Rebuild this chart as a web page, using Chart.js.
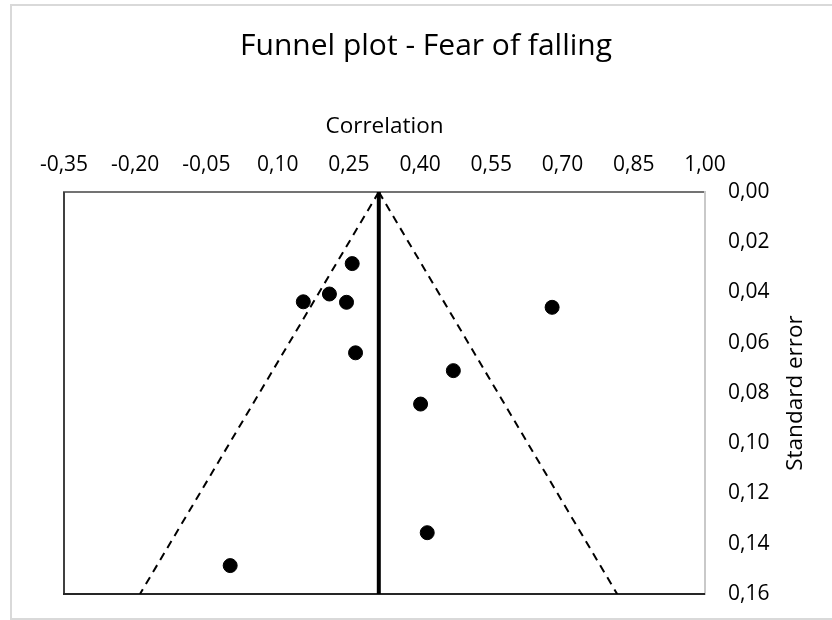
<!DOCTYPE html>
<html>
<head>
<meta charset="utf-8">
<script src="https://cdn.jsdelivr.net/npm/chart.js@4/dist/chart.umd.min.js"></script>
<style>
    html, body { margin: 0; padding: 0; background: #fff; }
    #frame { position: absolute; left: 10px; top: 4px; width: 840px; height: 612px; border: 2px solid #d9d9d9; }
    #funnel { position: absolute; left: 0; top: 0; }
</style>
</head>
<body>
<div id="frame"></div>
<canvas id="funnel" width="832" height="620"></canvas>
<script>
// studies: correlation (x) and standard error (y)
const studyR = [0.257, 0.154, 0.209, 0.245, 0.264, 0.678, 0.470, 0.401, 0.415, 0.000];
const studySE = [0.0285, 0.0437, 0.0406, 0.0439, 0.0640, 0.0459, 0.0711, 0.0844, 0.1356, 0.1487];

// pooled effect line and funnel limits
const pooledR = [0.313, 0.313];
const pooledSE = [0.00, 0.16];
const leftLimitR = [0.313, -0.19];
const rightLimitR = [0.313, 0.815];
const limitSE = [0.00, 0.16];

const xTicks = [-0.35, -0.20, -0.05, 0.10, 0.25, 0.40, 0.55, 0.70, 0.85, 1.00];
const yTicks = [0.00, 0.02, 0.04, 0.06, 0.08, 0.10, 0.12, 0.14, 0.16];

const chartTitle = 'Funnel plot - Fear of falling';
const xTitle = 'Correlation';
const yTitleText = 'Standard error';

const pts = (xs, ys) => xs.map((x, i) => ({ x: x, y: ys[i] }));
const comma = v => Number(v).toFixed(2).replace('.', ',');

const fontName = '"Open Sans"';

// left and bottom edges of the plot area
const plotFrame = {
    id: 'plotFrame',
    beforeDatasetsDraw(chart) {
        const { ctx, chartArea: a } = chart;
        ctx.save();
        ctx.lineWidth = 2;
        ctx.strokeStyle = '#404040';
        ctx.beginPath();
        ctx.moveTo(a.left, a.top);
        ctx.lineTo(a.left, a.bottom);
        ctx.stroke();
        ctx.strokeStyle = '#262626';
        ctx.beginPath();
        ctx.moveTo(a.left - 1, a.bottom);
        ctx.lineTo(a.right, a.bottom);
        ctx.stroke();
        ctx.restore();
    }
};

// main title sits a bit right of the canvas centre, y title reads bottom to top
const titles = {
    id: 'titles',
    afterDraw(chart) {
        const { ctx, chartArea: a } = chart;
        ctx.save();
        ctx.fillStyle = '#000';
        ctx.textAlign = 'center';
        ctx.textBaseline = 'alphabetic';
        ctx.font = '30px ' + fontName;
        ctx.fillText(chartTitle, 426, 55);

        ctx.translate(a.right + 97, (a.top + a.bottom) / 2);
        ctx.rotate(-Math.PI / 2);
        ctx.font = '22.5px ' + fontName;
        ctx.fillText(yTitleText, 0, 0);
        ctx.restore();
    }
};

const funnel = document.getElementById('funnel');

new Chart(funnel, {
    type: 'scatter',
    data: {
        datasets: [
            {
                label: 'Studies',
                data: pts(studyR, studySE),
                backgroundColor: '#000',
                borderColor: '#000',
                pointRadius: 7,
                pointBorderWidth: 1
            },
            {
                label: 'Pooled',
                data: pts(pooledR, pooledSE),
                showLine: true,
                borderColor: '#000',
                borderWidth: 4,
                pointRadius: 0
            },
            {
                label: 'Lower limit',
                data: pts(leftLimitR, limitSE),
                showLine: true,
                borderColor: '#000',
                borderWidth: 2,
                borderDash: [8, 6],
                pointRadius: 0
            },
            {
                label: 'Upper limit',
                data: pts(rightLimitR, limitSE),
                showLine: true,
                borderColor: '#000',
                borderWidth: 2,
                borderDash: [8, 6],
                pointRadius: 0
            }
        ]
    },
    options: {
        responsive: false,
        animation: false,
        layout: {
            autoPadding: false,
            padding: { left: 64, right: 0, top: 0, bottom: 26 }
        },
        scales: {
            x: {
                position: 'top',
                min: -0.35,
                max: 1.00,
                afterBuildTicks: s => { s.ticks = xTicks.map(v => ({ value: v })); },
                afterFit: s => { s.height = 192; s.paddingLeft = 0; s.paddingRight = 0; },
                grid: { display: false, drawTicks: false },
                border: { display: true, color: '#737373', width: 2 },
                ticks: {
                    padding: 14,
                    color: '#000',
                    maxRotation: 0,
                    autoSkip: false,
                    font: { family: fontName, size: 21 },
                    callback: v => comma(v)
                },
                title: {
                    display: true,
                    text: xTitle,
                    color: '#000',
                    padding: { top: 113, bottom: 0 },
                    font: { family: fontName, size: 22.5 }
                }
            },
            y: {
                position: 'right',
                reverse: true,
                min: 0,
                max: 0.16,
                afterBuildTicks: s => { s.ticks = yTicks.map(v => ({ value: v })); },
                // keep the label half-heights from shrinking the plot area
                afterFit: s => { s.width = 127; s.paddingTop = 0; s.paddingBottom = 0; },
                grid: { display: false, drawTicks: false },
                border: { display: true, color: '#c9c9c9', width: 2 },
                ticks: {
                    padding: 23,
                    color: '#000',
                    autoSkip: false,
                    font: { family: fontName, size: 21 },
                    callback: v => comma(v)
                }
            }
        },
        plugins: {
            title: { display: false },
            legend: { display: false },
            tooltip: { enabled: false }
        }
    },
    plugins: [plotFrame, titles]
});
</script>
</body>
</html>
